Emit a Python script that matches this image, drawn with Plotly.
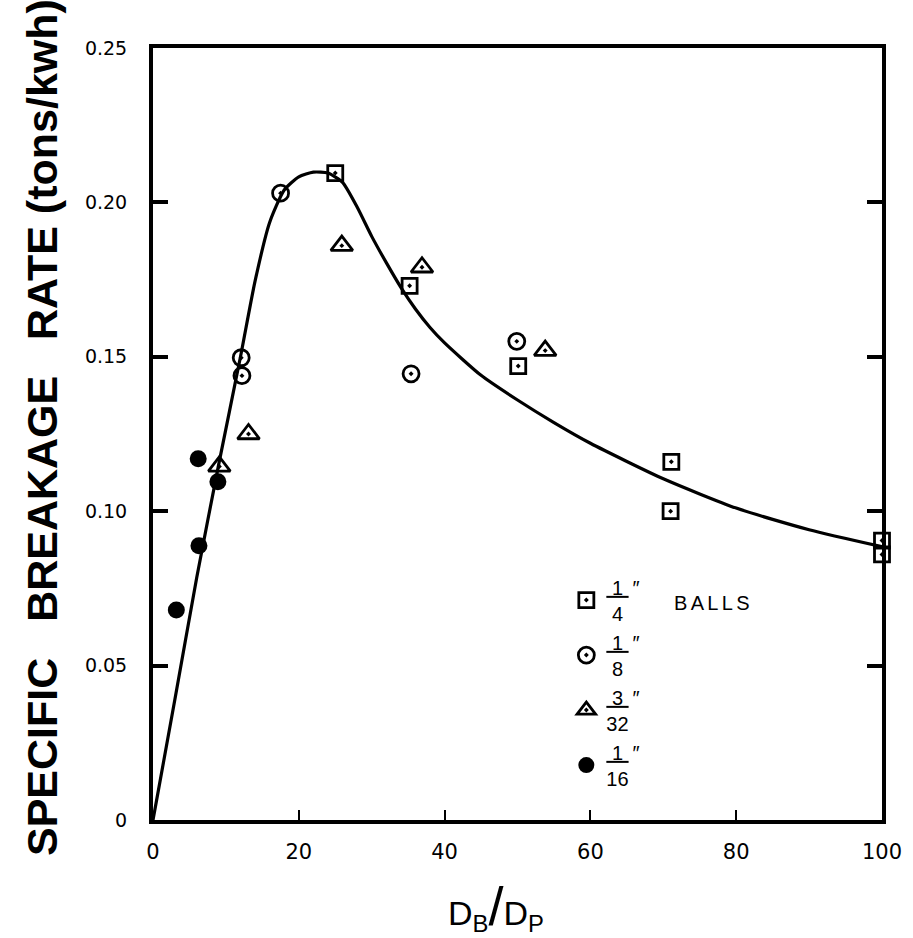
import plotly.graph_objects as go

# ---- data ----
sq_x = [25.0, 35.2, 50.1, 71.1, 71.0, 100.0, 100.0]
sq_y = [0.2095, 0.173, 0.147, 0.116, 0.100, 0.0905, 0.0860]

ci_x = [17.5, 12.1, 12.2, 35.4, 49.9]
ci_y = [0.203, 0.1497, 0.1439, 0.1445, 0.155]

tr_x = [25.9, 36.9, 53.8, 13.1, 9.1]
tr_y = [0.186, 0.179, 0.152, 0.125, 0.1145]

fc_x = [6.2, 8.9, 6.3, 3.2]
fc_y = [0.117, 0.1095, 0.0888, 0.068]

curve_x = [0, 3, 6, 9, 12, 14, 16, 18, 20, 22, 24, 26, 28, 30, 32, 34, 36, 38, 40,
           45, 50, 55, 60, 70, 80, 90, 100]
curve_y = [0, 0.039, 0.0785, 0.1150, 0.1500, 0.1745, 0.1935, 0.2040, 0.2083, 0.2098,
           0.2095, 0.2065, 0.1985, 0.1890, 0.1805, 0.1725, 0.1655, 0.1595, 0.1545,
           0.1440, 0.1360, 0.1287, 0.1220, 0.1105, 0.1010, 0.0940, 0.0885]

x_ticks = [0, 20, 40, 60, 80, 100]
y_ticks = [0, 0.05, 0.10, 0.15, 0.20, 0.25]
y_tick_text = ["0", "0.05", "0.10", "0.15", "0.20", "0.25"]

NB = "\u00a0"
names = [
    "<u>" + NB + "1" + NB + "</u>\u2009\u2033<br>" + NB + "4",
    "<u>" + NB + "1" + NB + "</u>\u2009\u2033<br>" + NB + "8",
    "<u>" + NB + "3" + NB + "</u>\u2009\u2033<br>32",
    "<u>" + NB + "1" + NB + "</u>\u2009\u2033<br>16",
]

fig = go.Figure()

fig.add_trace(go.Scatter(x=curve_x, y=curve_y, mode="lines",
                         line=dict(color="black", width=3.2, shape="spline", smoothing=0.6),
                         showlegend=False, hoverinfo="skip"))

mk_line = dict(color="black", width=2.8)
fig.add_trace(go.Scatter(x=sq_x, y=sq_y, mode="markers", name=names[0],
                         marker=dict(symbol="square-open-dot", size=15, color="black", line=mk_line),
                         cliponaxis=False))
fig.add_trace(go.Scatter(x=ci_x, y=ci_y, mode="markers", name=names[1],
                         marker=dict(symbol="circle-open-dot", size=16, color="black", line=mk_line),
                         cliponaxis=False))
fig.add_trace(go.Scatter(x=tr_x, y=tr_y, mode="markers", name=names[2],
                         marker=dict(symbol="triangle-up-open-dot", size=19, color="black", line=mk_line),
                         cliponaxis=False))
fig.add_trace(go.Scatter(x=fc_x, y=fc_y, mode="markers", name=names[3],
                         marker=dict(symbol="circle", size=17, color="black"),
                         cliponaxis=False))

fig.update_layout(
    width=913, height=938,
    margin=dict(l=153, r=31, t=48, b=118),
    paper_bgcolor="white", plot_bgcolor="white",
    font=dict(family="Liberation Sans, Arial, sans-serif", color="black"),
    showlegend=True,
    legend=dict(x=0.567, y=0.327, xanchor="left", yanchor="top",
                font=dict(size=20, family="Liberation Sans, Arial, sans-serif"),
                bgcolor="rgba(0,0,0,0)", tracegroupgap=0, itemsizing="trace"),
    xaxis=dict(range=[0, 100], tickvals=x_ticks, ticktext=[str(v) for v in x_ticks],
               showgrid=False, zeroline=False, showline=True, linecolor="black", linewidth=4,
               mirror=True, ticks="inside", ticklen=10, tickwidth=2, tickcolor="black",
               tickfont=dict(size=21, family="DejaVu Sans, sans-serif"), ticklabelstandoff=10),
    yaxis=dict(range=[0, 0.25], tickvals=y_ticks, ticktext=y_tick_text,
               showgrid=False, zeroline=False, showline=True, linecolor="black", linewidth=4,
               mirror="ticks", ticks="inside", ticklen=15, tickwidth=3.5, tickcolor="black",
               tickfont=dict(size=19, family="DejaVu Sans, sans-serif"), ticklabelstandoff=18),
    annotations=[
        dict(text="SPECIFIC" + NB * 3 + "BREAKAGE" + NB * 3 + "RATE" + NB + "(tons/kwh)",
             xref="paper", yref="paper", x=-0.152, y=0.508, textangle=-90,
             showarrow=False, xanchor="center", yanchor="middle",
             font=dict(size=43, family="Liberation Sans, Arial", weight="bold")),
        dict(text="D<sub>B</sub><span style='font-size:54px'>/</span>D<sub>P</sub>",
             xref="paper", yref="paper", x=0.4705, y=-0.112, showarrow=False,
             xanchor="center", yanchor="middle",
             font=dict(size=34, family="Liberation Sans, Arial")),
        dict(text="B\u2006A\u2006L\u2006L\u2006S", xref="paper", yref="paper",
             x=0.712, y=0.281, showarrow=False, xanchor="left", yanchor="middle",
             font=dict(size=20, family="Liberation Sans, Arial")),
    ],
)

fig.write_html("out.html")
